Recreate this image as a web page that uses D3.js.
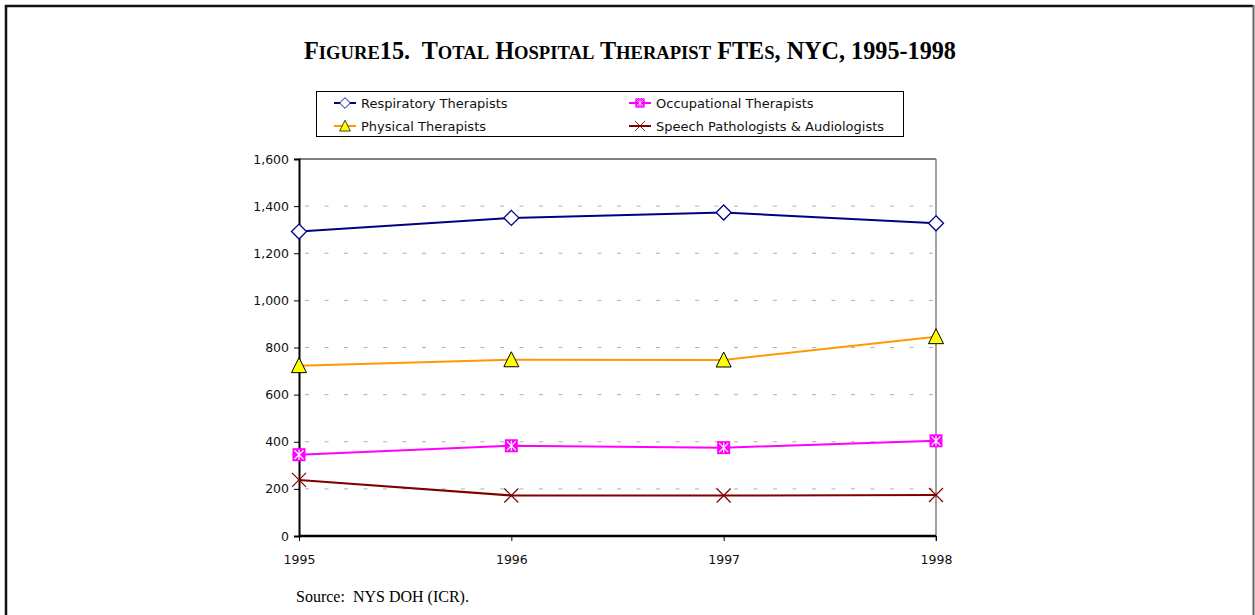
<!DOCTYPE html>
<html>
<head>
<meta charset="utf-8">
<script src="https://cdn.jsdelivr.net/npm/d3@7"></script>
<style>
  body { margin: 0; background: #fff; }
  svg { display: block; }
</style>
</head>
<body>
<div id="container"><svg></svg></div>
<script>
// chart data
const years = ['1995', '1996', '1997', '1998'];
const respiratory = [1292, 1350, 1373, 1327];
const occupational = [345, 383, 375, 404];
const physical = [723, 748, 747, 846];
const speech = [238, 172, 172, 174];
const yTicks = [0, 200, 400, 600, 800, 1000, 1200, 1400, 1600];

const width = 1255, height = 615;
const plot = { left: 299, right: 936, top: 159, bottom: 536 };
const axisFont = 'Tahoma, "DejaVu Sans", Verdana, sans-serif';

const series = [
    { name: 'Respiratory Therapists', values: respiratory, color: '#000080', marker: 'diamond' },
    { name: 'Occupational Therapists', values: occupational, color: '#FF00FF', marker: 'square' },
    { name: 'Physical Therapists', values: physical, color: '#FF9900', marker: 'triangle' },
    { name: 'Speech Pathologists & Audiologists', values: speech, color: '#800000', marker: 'cross' }
];

const svg = d3.select('#container').select('svg')
    .attr('width', width)
    .attr('height', height);

// outer frame
svg.append('path')
    .attr('d', `M6,${height + 5} V6 H1253`)
    .attr('fill', 'none')
    .attr('stroke', '#111')
    .attr('stroke-width', 2.5);
svg.append('line')
    .attr('x1', 1253.5).attr('x2', 1253.5).attr('y1', 5).attr('y2', height)
    .attr('stroke', '#666').attr('stroke-width', 2);

// title, small caps done by hand
const big = 24.2, small = 18.6;
const title = svg.append('text')
    .attr('x', 630).attr('y', 59)
    .attr('text-anchor', 'middle')
    .attr('font-family', '"Liberation Serif", "Times New Roman", serif')
    .attr('font-weight', 'bold')
    .attr('font-size', big)
    .attr('xml:space', 'preserve');
const titleParts = [
    ['F', big], ['IGURE', small], ['15.  T', big], ['OTAL', small], [' H', big], ['OSPITAL', small],
    [' T', big], ['HERAPIST', small], [' FTE', big], ['S', small], [', NYC, 1995-1998', big]
];
titleParts.forEach(p => {
    title.append('tspan').attr('font-size', p[1]).text(p[0]);
});

// scales
const x = d3.scalePoint()
    .domain(years)
    .range([plot.left, plot.right]);
const y = d3.scaleLinear()
    .domain([0, 1600])
    .range([plot.bottom, plot.top]);

// grid lines
svg.append('g')
    .selectAll('line')
    .data(yTicks.filter(d => d > 0 && d < 1600))
    .enter().append('line')
    .attr('x1', plot.left + 1).attr('x2', plot.right)
    .attr('y1', d => y(d)).attr('y2', d => y(d))
    .attr('stroke', '#b0b0b0')
    .attr('stroke-width', 1)
    .attr('stroke-dasharray', '4,15.5')
    .attr('stroke-dashoffset', -5);

// plot frame: top black, right grey
svg.append('line')
    .attr('x1', plot.left).attr('x2', plot.right)
    .attr('y1', plot.top).attr('y2', plot.top)
    .attr('stroke', '#000').attr('stroke-width', 1);
svg.append('line')
    .attr('x1', plot.right).attr('x2', plot.right)
    .attr('y1', plot.top).attr('y2', plot.bottom + 5)
    .attr('stroke', '#808080').attr('stroke-width', 1.5);

// y axis
const axisY = d3.axisLeft(y)
    .tickValues(yTicks)
    .tickSize(5)
    .tickPadding(5)
    .tickFormat(d3.format(','));
const gy = svg.append('g')
    .attr('transform', `translate(${plot.left}, 0)`)
    .call(axisY)
    .attr('font-family', axisFont)
    .attr('font-size', 12.5);
gy.select('.domain').attr('stroke', '#000').attr('stroke-width', 2);
gy.selectAll('.tick line').attr('stroke', '#000');
gy.selectAll('.tick text').attr('fill', '#111');

// x axis
const axisX = d3.axisBottom(x)
    .tickSize(5)
    .tickPadding(14);
const gx = svg.append('g')
    .attr('transform', `translate(0, ${plot.bottom})`)
    .call(axisX)
    .attr('font-family', axisFont)
    .attr('font-size', 12.5);
gx.select('.domain').attr('stroke', '#000').attr('stroke-width', 2.5)
    .attr('d', `M${plot.left},0H${plot.right}`);
gx.selectAll('.tick line').attr('stroke', '#000');
gx.selectAll('.tick text').attr('fill', '#111');

// markers
function drawMarker(g, type, color) {
    if (type === 'diamond') {
        g.append('path').attr('d', 'M0,-7.5L7.5,0L0,7.5L-7.5,0Z')
            .attr('fill', '#fff').attr('stroke', color).attr('stroke-width', 1.3);
    } else if (type === 'triangle') {
        g.append('path').attr('d', 'M0,-8L7.5,7L-7.5,7Z')
            .attr('fill', '#FFFF00').attr('stroke', '#000').attr('stroke-width', 1);
    } else if (type === 'square') {
        g.append('rect').attr('x', -6.5).attr('y', -6.5).attr('width', 13).attr('height', 13)
            .attr('fill', color);
        g.append('path').attr('d', 'M-4.5,-4.5L4.5,4.5M4.5,-4.5L-4.5,4.5M0,-5V5')
            .attr('stroke', '#fff').attr('stroke-width', 1.2);
    } else if (type === 'cross') {
        g.append('path').attr('d', 'M-7,-7L7,7M7,-7L-7,7')
            .attr('stroke', color).attr('stroke-width', 1.2);
    }
}

const line = d3.line()
    .x((d, i) => x(years[i]))
    .y(d => y(d));

series.forEach(s => {
    svg.append('path')
        .datum(s.values)
        .attr('d', line)
        .attr('fill', 'none')
        .attr('stroke', s.color)
        .attr('stroke-width', 2);
});
series.forEach(s => {
    s.values.forEach((v, i) => {
        const g = svg.append('g').attr('transform', `translate(${x(years[i])}, ${y(v)})`);
        drawMarker(g, s.marker, s.color);
    });
});

// legend
const legend = svg.append('g');
legend.append('rect')
    .attr('x', 316.5).attr('y', 91.5).attr('width', 587).attr('height', 45)
    .attr('fill', '#fff').attr('stroke', '#000').attr('stroke-width', 1);
const legendPos = [[334, 103], [629, 103], [334, 126], [629, 126]];
series.forEach((s, i) => {
    const [lx, ly] = legendPos[i];
    const g = legend.append('g').attr('transform', `translate(${lx}, ${ly})`);
    g.append('line').attr('x1', 0).attr('x2', 22).attr('y1', 0).attr('y2', 0)
        .attr('stroke', s.color).attr('stroke-width', 2);
    const m = g.append('g').attr('transform', 'translate(11,0) scale(0.72)');
    drawMarker(m, s.marker, s.color);
    g.append('text')
        .attr('x', 27).attr('y', 5)
        .attr('font-family', axisFont)
        .attr('font-size', 13)
        .attr('fill', '#111')
        .text(s.name);
});

// source note
svg.append('text')
    .attr('x', 296).attr('y', 602)
    .attr('font-family', '"Liberation Serif", "Times New Roman", serif')
    .attr('font-size', 16)
    .attr('fill', '#000')
    .attr('xml:space', 'preserve')
    .text('Source:  NYS DOH (ICR).');
</script>
</body>
</html>
